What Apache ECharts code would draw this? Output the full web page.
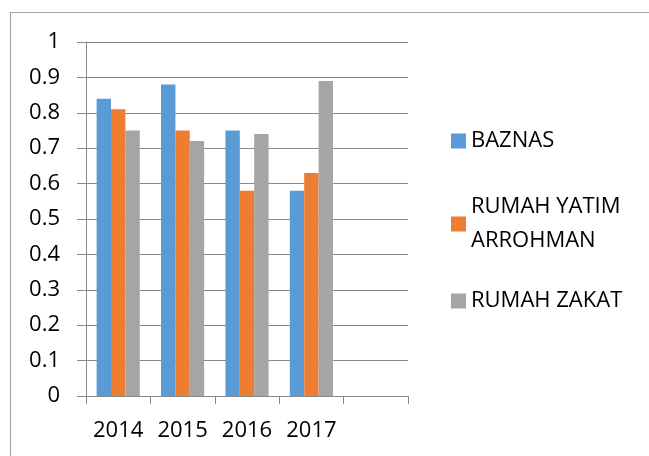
<!DOCTYPE html>
<html>
<head>
<meta charset="utf-8">
<script src="https://cdn.jsdelivr.net/npm/echarts@6/dist/echarts.min.js"></script>
<style>
  html, body { margin: 0; padding: 0; background: #fff; }
  #main { width: 649px; height: 456px; }
</style>
</head>
<body>
<div id="main"></div>
<script>
// data
const years = ["2014", "2015", "2016", "2017", ""];
const baznas = [0.84, 0.88, 0.75, 0.58];
const rumahYatim = [0.81, 0.75, 0.58, 0.63];
const rumahZakat = [0.75, 0.72, 0.74, 0.89];
const seriesNames = ["BAZNAS", "RUMAH YATIM ARROHMAN", "RUMAH ZAKAT"];

const font = "'Open Sans', 'Noto Sans', sans-serif";
const gridColor = "#8a8a8a";

const chart = echarts.init(document.getElementById("main"));

function legendAt(name, top, extra) {
  return Object.assign({
    data: [name],
    orient: "vertical",
    left: 451,
    top: top,
    padding: 0,
    itemWidth: 15,
    itemHeight: 15,
    itemGap: 0,
    icon: "rect",
    selectedMode: false,
    textStyle: { fontFamily: font, fontSize: 22, color: "#000", lineHeight: 22 }
  }, extra || {});
}

chart.setOption({
  animation: false,
  backgroundColor: "#fff",
  color: ["#5B9BD5", "#ED7D31", "#A5A5A5"],
  grid: { left: 86, right: 241, top: 42, bottom: 60, containLabel: false },
  graphic: [
    {
      type: "polyline",
      silent: true,
      shape: { points: [[10.5, 456], [10.5, 12.5], [649, 12.5]] },
      style: { stroke: "#a6a6a6", lineWidth: 1.2, fill: null }
    }
  ],
  legend: [
    legendAt(seriesNames[0], 130),
    legendAt(seriesNames[1], 173, {
      formatter: function () { return "RUMAH YATIM\nARROHMAN"; },
      textStyle: { fontFamily: font, fontSize: 22, color: "#000", lineHeight: 34, padding: [34, 0, 0, 0] }
    }),
    legendAt(seriesNames[2], 290)
  ],
  xAxis: {
    type: "category",
    data: years,
    boundaryGap: true,
    axisLine: { show: true, lineStyle: { color: gridColor, width: 1 } },
    axisTick: { show: true, length: 8, interval: 0, alignWithLabel: false, lineStyle: { color: gridColor } },
    axisLabel: { interval: 0, margin: 24, fontFamily: font, fontSize: 22, color: "#000", lineHeight: 22 },
    splitLine: { show: false }
  },
  yAxis: {
    type: "value",
    min: 0,
    max: 1,
    interval: 0.1,
    axisLine: { show: true, lineStyle: { color: gridColor, width: 1 } },
    axisTick: { show: true, length: 9, lineStyle: { color: gridColor } },
    axisLabel: {
      margin: 26,
      fontFamily: font,
      fontSize: 22,
      color: "#000",
      formatter: function (v) { return String(Math.round(v * 10) / 10); }
    },
    splitLine: { show: true, lineStyle: { color: gridColor, width: 1 } }
  },
  series: [
    { name: seriesNames[0], type: "bar", data: baznas, barGap: "0%", barCategoryGap: "33%" },
    { name: seriesNames[1], type: "bar", data: rumahYatim, barGap: "0%", barCategoryGap: "33%" },
    { name: seriesNames[2], type: "bar", data: rumahZakat, barGap: "0%", barCategoryGap: "33%" }
  ]
});
</script>
</body>
</html>
